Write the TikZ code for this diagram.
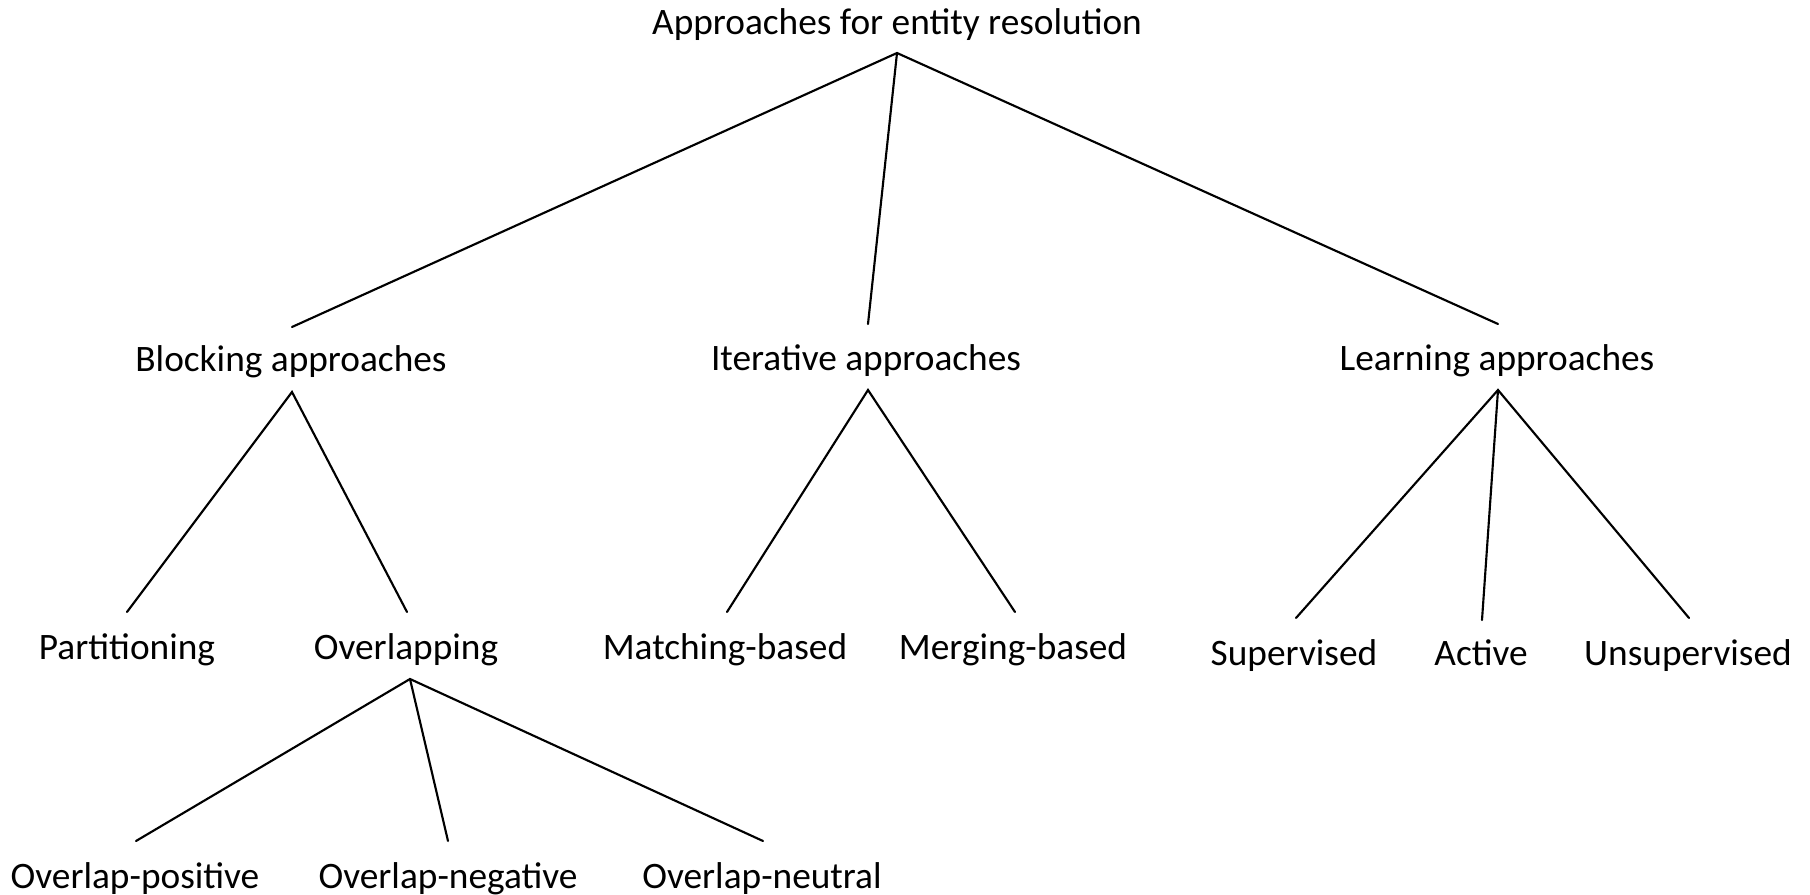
\documentclass[tikz,border=0pt]{standalone}
\usepackage{fontspec}
\setmainfont{Carlito}
\begin{document}
\begin{tikzpicture}[x=0.75pt,y=-0.75pt,
  label/.style={font=\fontsize{28}{32}\selectfont, anchor=base, inner sep=0pt},
  branch/.style={line width=1.6pt, line cap=round}]
\useasboundingbox (0,0) rectangle (1810,895);

% labels, placed on their baselines
\node[label] (root)   at (897,35)  {Approaches for entity resolution};
\node[label] (block)  at (291,371) {Blocking approaches};
\node[label] (iter)   at (866,370) {Iterative approaches};
\node[label] (learn)  at (1497,370) {Learning approaches};
\node[label] (part)   at (127,659) {Partitioning};
\node[label] (over)   at (406,659) {Overlapping};
\node[label] (match)  at (725,659) {Matching-based};
\node[label] (merge)  at (1013,659) {Merging-based};
\node[label] (sup)    at (1294,665) {Supervised};
\node[label] (act)    at (1481,665) {Active};
\node[label] (unsup)  at (1688,665) {Unsupervised};
\node[label] (opos)   at (135,888) {Overlap-positive};
\node[label] (oneg)   at (448,888) {Overlap-negative};
\node[label] (oneu)   at (762,888) {Overlap-neutral};

% branch points below parents and line ends above children
\coordinate (root-s)  at (897,53);
\coordinate (block-n) at (292,327);
\coordinate (iter-n)  at (868,324);
\coordinate (learn-n) at (1498,324);
\coordinate (block-s) at (292,392);
\coordinate (iter-s)  at (868,390);
\coordinate (learn-s) at (1498,390);
\coordinate (part-n)  at (127,612);
\coordinate (over-n)  at (407,612);
\coordinate (match-n) at (727,612);
\coordinate (merge-n) at (1015,612);
\coordinate (sup-n)   at (1296,618);
\coordinate (act-n)   at (1482,620);
\coordinate (unsup-n) at (1689,618);
\coordinate (over-s)  at (410,679);
\coordinate (opos-n)  at (136,841);
\coordinate (oneg-n)  at (448,841);
\coordinate (oneu-n)  at (763,841);

\draw[branch] (block-n) -- (root-s) -- (learn-n);
\draw[branch] (root-s) -- (iter-n);
\draw[branch] (part-n) -- (block-s) -- (over-n);
\draw[branch] (match-n) -- (iter-s) -- (merge-n);
\draw[branch] (sup-n) -- (learn-s) -- (unsup-n);
\draw[branch] (learn-s) -- (act-n);
\draw[branch] (opos-n) -- (over-s) -- (oneu-n);
\draw[branch] (over-s) -- (oneg-n);
\end{tikzpicture}
\end{document}
